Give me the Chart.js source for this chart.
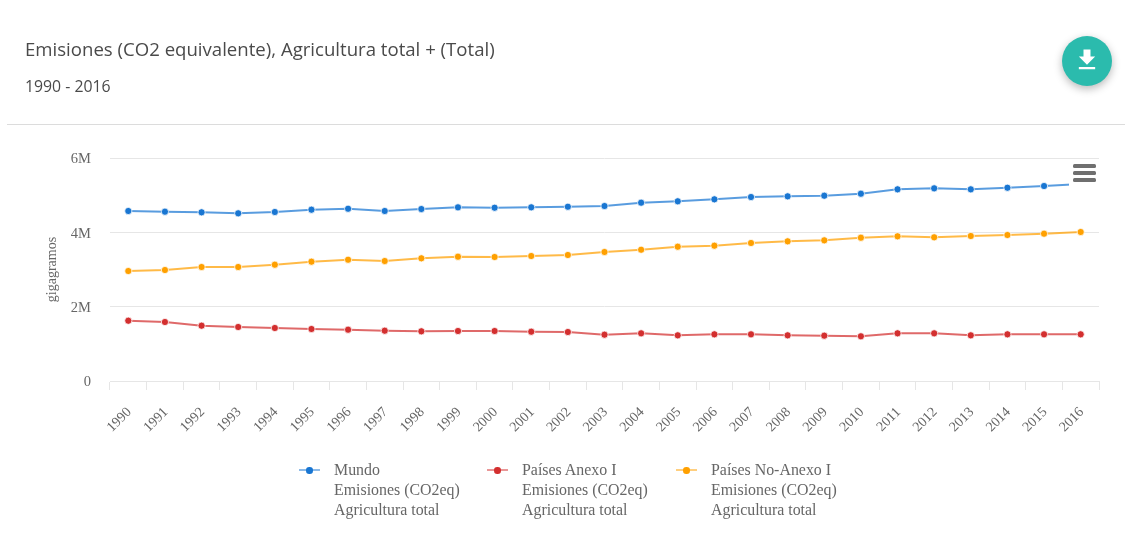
<!DOCTYPE html>
<html lang="es">
<head>
<meta charset="utf-8">
<title>Emisiones (CO2 equivalente), Agricultura total</title>
<script src="https://cdn.jsdelivr.net/npm/chart.js@4/dist/chart.umd.min.js"></script>
<style>
  html, body { margin: 0; padding: 0; background: #fff; }
  #page { position: relative; width: 1125px; height: 539px; overflow: hidden; }
  #plot { position: absolute; left: 0; top: 0; }
  .heading { position: absolute; left: 25px; font-family: "Open Sans", sans-serif; color: #4a4a4a; white-space: nowrap; }
  #title { top: 36px; font-size: 18.6px; line-height: 26px; }
  #subtitle { top: 75px; font-size: 15.8px; line-height: 22px; }
  #rule { position: absolute; left: 7px; right: 0; top: 124px; height: 1px; background: #dcdcdc; }
  #fab { position: absolute; left: 1062px; top: 36px; width: 50px; height: 50px; border-radius: 50%;
         background: #2bbbad; box-shadow: 0 3px 8px rgba(0,0,0,.28); }
  #fab svg { position: absolute; left: 11px; top: 10px; width: 28px; height: 28px; fill: #fff; }
  #menu { position: absolute; left: 1069px; top: 160px; width: 31px; height: 28px; background: #fff; }
  #menu i { position: absolute; left: 4px; width: 23px; height: 4px; border-radius: 1.5px; background: #6f6f6f; }
  .entry { position: absolute; top: 460px; font-family: "Liberation Serif", serif; font-size: 15.9px; line-height: 20px; color: #666; white-space: nowrap; }
  .entry .swatch { position: absolute; left: -35px; top: 9px; width: 21px; height: 2px; opacity: .5; }
  .entry .dot { position: absolute; left: -28px; top: 7px; width: 6.5px; height: 6.5px; border-radius: 50%; }
</style>
</head>
<body>
<div id="page">
  <canvas id="plot" width="1125" height="539"></canvas>
  <div id="title" class="heading">Emisiones (CO2 equivalente), Agricultura total + (Total)</div>
  <div id="subtitle" class="heading">1990 - 2016</div>
  <div id="rule"></div>
  <div id="fab"><svg viewBox="0 0 24 24"><path d="M19 9h-4V3H9v6H5l7 7 7-7zM5 18v2h14v-2H5z"/></svg></div>
  <div id="menu"><i style="top:4px"></i><i style="top:11px"></i><i style="top:18px"></i></div>
</div>
<script>
const years = ["1990","1991","1992","1993","1994","1995","1996","1997","1998","1999","2000","2001","2002","2003","2004","2005","2006","2007","2008","2009","2010","2011","2012","2013","2014","2015","2016"];

// Emissions in millions of gigagrams of CO2 equivalent
const mundo = [4.574,4.555,4.539,4.512,4.547,4.609,4.635,4.574,4.627,4.673,4.662,4.673,4.689,4.708,4.797,4.835,4.888,4.950,4.969,4.985,5.039,5.157,5.184,5.157,5.200,5.246,5.300];
const anexoI = [1.622,1.587,1.488,1.453,1.426,1.399,1.380,1.353,1.337,1.345,1.345,1.326,1.318,1.246,1.283,1.229,1.256,1.256,1.229,1.219,1.203,1.283,1.283,1.229,1.256,1.256,1.256];
const noAnexoI = [2.959,2.986,3.067,3.067,3.129,3.210,3.263,3.228,3.301,3.344,3.336,3.363,3.390,3.471,3.532,3.613,3.640,3.713,3.758,3.785,3.855,3.893,3.866,3.901,3.928,3.963,4.009];

const yTicks = [0, 2, 4, 6];
const yTickLabels = ["0", "2M", "4M", "6M"];
const axisTitle = "gigagramos";

const seriesNames = ["Mundo", "Países Anexo I", "Países No-Anexo I"];
const seriesLines = ["Emisiones (CO2eq)", "Agricultura total"];
const seriesColors = ["#1976d2", "#d32f2f", "#ffa000"];
const seriesLineColors = ["rgba(25,118,210,.72)", "rgba(211,47,47,.72)", "rgba(255,160,0,.72)"];
const seriesValues = [mundo, anexoI, noAnexoI];
const legendLefts = [334, 522, 711];

const serif = "'Liberation Serif', serif";
const gridColor = "#e6e6e6";

new Chart(document.getElementById("plot"), {
  type: "line",
  data: {
    labels: years,
    datasets: seriesNames.map((name, i) => ({
      label: name,
      data: seriesValues[i],
      borderColor: seriesLineColors[i],
      backgroundColor: seriesColors[i],
      borderWidth: 2,
      tension: 0,
      pointRadius: 3.6,
      pointBorderWidth: 1,
      pointBorderColor: "rgba(255,255,255,.75)",
      pointBackgroundColor: seriesColors[i]
    }))
  },
  options: {
    responsive: false,
    animation: false,
    layout: { padding: { left: 44, right: 26, top: 158, bottom: 58 } },
    plugins: { legend: { display: false }, tooltip: { enabled: false }, title: { display: false } },
    scales: {
      x: {
        type: "category",
        offset: true,
        afterFit: s => { s.height = 100; },
        border: { color: gridColor, width: 1 },
        grid: { drawOnChartArea: false, drawTicks: true, tickLength: 9, color: gridColor, offset: true },
        ticks: {
          autoSkip: false, minRotation: 45, maxRotation: 45, padding: 14, labelOffset: 1,
          color: "#666", font: { family: serif, size: 14 }
        }
      },
      y: {
        min: 0,
        max: 6,
        afterBuildTicks: s => { s.ticks = yTicks.map(value => ({ value })); },
        afterFit: s => { s.width = 66; },
        border: { display: false },
        grid: { color: gridColor, lineWidth: 1, drawTicks: false },
        title: { display: true, text: axisTitle, color: "#666", padding: { top: 0, bottom: 2 }, font: { family: serif, size: 14 } },
        ticks: {
          padding: 19, labelOffset: 1.5, color: "#666", font: { family: serif, size: 14.5 },
          callback: v => yTickLabels[yTicks.indexOf(v)]
        }
      }
    }
  }
});

// Legend entries sit under the plot as three side-by-side text blocks
const page = document.getElementById("page");
seriesNames.forEach((name, i) => {
  const entry = document.createElement("div");
  entry.className = "entry";
  entry.style.left = legendLefts[i] + "px";
  [name, ...seriesLines].forEach(line => {
    const row = document.createElement("div");
    row.textContent = line;
    entry.appendChild(row);
  });
  const swatch = document.createElement("span");
  swatch.className = "swatch";
  swatch.style.background = seriesColors[i];
  const dot = document.createElement("span");
  dot.className = "dot";
  dot.style.background = seriesColors[i];
  entry.append(swatch, dot);
  page.appendChild(entry);
});
</script>
</body>
</html>
